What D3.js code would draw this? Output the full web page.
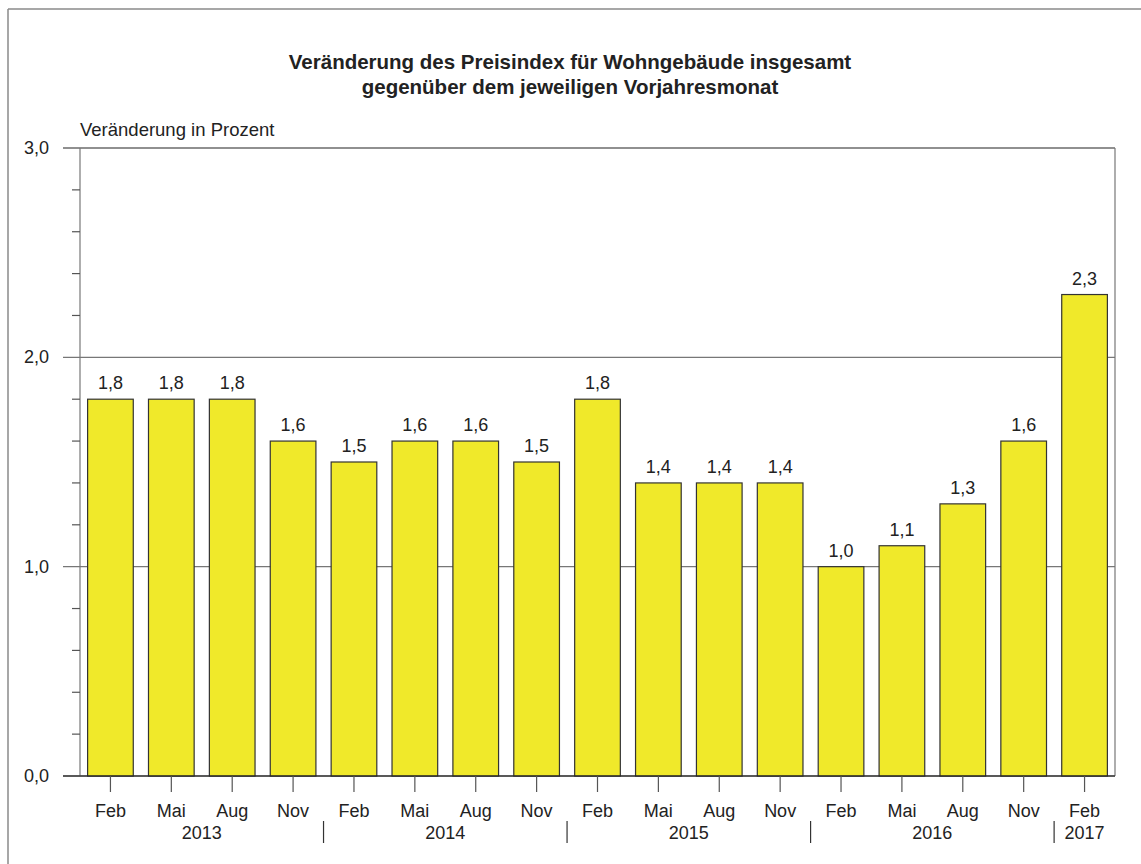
<!DOCTYPE html>
<html>
<head>
<meta charset="utf-8">
<script src="https://cdn.jsdelivr.net/npm/d3@7"></script>
<style>
  body { margin: 0; background: #fff; }
  text { font-family: "Liberation Sans", Arial, sans-serif; fill: #222; }
</style>
</head>
<body>
<svg id="chart"></svg>
<script>
// Daten
var months = ["Feb", "Mai", "Aug", "Nov", "Feb", "Mai", "Aug", "Nov", "Feb", "Mai", "Aug", "Nov", "Feb", "Mai", "Aug", "Nov", "Feb"];
var years = ["2013", "2013", "2013", "2013", "2014", "2014", "2014", "2014", "2015", "2015", "2015", "2015", "2016", "2016", "2016", "2016", "2017"];
var values = [1.8, 1.8, 1.8, 1.6, 1.5, 1.6, 1.6, 1.5, 1.8, 1.4, 1.4, 1.4, 1.0, 1.1, 1.3, 1.6, 2.3];
var yTicks = [0, 1, 2, 3];
var yMinor = [0.2, 0.4, 0.6, 0.8, 1.2, 1.4, 1.6, 1.8, 2.2, 2.4, 2.6, 2.8];

var svg_width = 1141, svg_height = 864;
var pLeft = 80, pRight = 1115, pTop = 148, pBottom = 776;

var svg = d3.select("#chart")
	.attr("width", svg_width)
	.attr("height", svg_height);

var fmt = function (d) { return d3.format(".1f")(d).replace(".", ","); };

var keys = values.map(function (d, i) { return i; });
var x = d3.scaleBand().domain(keys).range([pLeft, pRight]).paddingInner(0.25).paddingOuter(0.125);
var y = d3.scaleLinear().domain([0, 3]).range([pBottom, pTop]);

// Rahmen
svg.append("line").attr("x1", 8).attr("x2", svg_width).attr("y1", 9).attr("y2", 9)
	.attr("stroke", "#8a8a8a").attr("stroke-width", 1.5);
svg.append("line").attr("x1", 8).attr("x2", 8).attr("y1", 9).attr("y2", svg_height)
	.attr("stroke", "#8a8a8a").attr("stroke-width", 1.5);

// Titel
svg.append("text").attr("x", 570).attr("y", 69).attr("text-anchor", "middle")
	.style("font-size", "20.5px").style("font-weight", "bold")
	.text("Veränderung des Preisindex für Wohngebäude insgesamt");
svg.append("text").attr("x", 570).attr("y", 94).attr("text-anchor", "middle")
	.style("font-size", "20.5px").style("font-weight", "bold")
	.text("gegenüber dem jeweiligen Vorjahresmonat");

svg.append("text").attr("x", 80).attr("y", 136)
	.style("font-size", "18.5px")
	.text("Veränderung in Prozent");

// Gitterlinien
svg.append("g").selectAll("line")
	.data(yTicks)
	.enter().append("line")
	.attr("x1", 63).attr("x2", pRight)
	.attr("y1", function (d) { return y(d); })
	.attr("y2", function (d) { return y(d); })
	.attr("stroke", function (d) { return (d === 0 || d === 3) ? "#222" : "#777"; })
	.attr("stroke-width", 1.2);

// y-Achse
svg.append("line").attr("x1", pLeft).attr("x2", pLeft).attr("y1", pTop).attr("y2", pBottom)
	.attr("stroke", "#777").attr("stroke-width", 1.2);
svg.append("line").attr("x1", pRight).attr("x2", pRight).attr("y1", pTop).attr("y2", pBottom)
	.attr("stroke", "#777").attr("stroke-width", 1.2);

svg.append("g").selectAll("line")
	.data(yMinor)
	.enter().append("line")
	.attr("x1", 72).attr("x2", pLeft)
	.attr("y1", function (d) { return y(d); })
	.attr("y2", function (d) { return y(d); })
	.attr("stroke", "#555").attr("stroke-width", 1.2);

svg.append("g").selectAll("text")
	.data(yTicks)
	.enter().append("text")
	.attr("x", 49)
	.attr("y", function (d) { return y(d) + 6; })
	.attr("text-anchor", "end")
	.style("font-size", "18px")
	.text(fmt);

// Balken
svg.append("g").selectAll("rect")
	.data(values)
	.enter().append("rect")
	.attr("x", function (d, i) { return x(i); })
	.attr("y", function (d) { return y(d); })
	.attr("width", x.bandwidth())
	.attr("height", function (d) { return y(0) - y(d); })
	.attr("fill", "#f0e92a")
	.attr("stroke", "#333")
	.attr("stroke-width", 1.2);

// Nulllinie über den Balken
svg.append("line").attr("x1", 63).attr("x2", pRight).attr("y1", y(0)).attr("y2", y(0))
	.attr("stroke", "#222").attr("stroke-width", 1.2);

// Werte
svg.append("g").selectAll("text")
	.data(values)
	.enter().append("text")
	.attr("x", function (d, i) { return x(i) + x.bandwidth() / 2; })
	.attr("y", function (d) { return y(d) - 10; })
	.attr("text-anchor", "middle")
	.style("font-size", "18px")
	.text(fmt);

// x-Achse
svg.append("g").selectAll("line")
	.data(keys)
	.enter().append("line")
	.attr("x1", function (i) { return x(i) + x.bandwidth() / 2; })
	.attr("x2", function (i) { return x(i) + x.bandwidth() / 2; })
	.attr("y1", pBottom).attr("y2", pBottom + 16)
	.attr("stroke", "#555").attr("stroke-width", 1.2);

svg.append("g").selectAll("text")
	.data(months)
	.enter().append("text")
	.attr("x", function (d, i) { return x(i) + x.bandwidth() / 2; })
	.attr("y", 817)
	.attr("text-anchor", "middle")
	.style("font-size", "18px")
	.text(function (d) { return d; });

// Jahre
var yearGroups = d3.groups(keys, function (i) { return years[i]; });
var step = x.step();
svg.append("g").selectAll("text")
	.data(yearGroups)
	.enter().append("text")
	.attr("x", function (g) {
		var a = g[1][0], b = g[1][g[1].length - 1];
		return (x(a) + x(b) + x.bandwidth()) / 2;
	})
	.attr("y", 839)
	.attr("text-anchor", "middle")
	.style("font-size", "18px")
	.text(function (g) { return g[0]; });

svg.append("g").selectAll("line")
	.data(yearGroups.slice(1))
	.enter().append("line")
	.attr("x1", function (g) { return x(g[1][0]) - (step - x.bandwidth()) / 2; })
	.attr("x2", function (g) { return x(g[1][0]) - (step - x.bandwidth()) / 2; })
	.attr("y1", 821).attr("y2", 843)
	.attr("stroke", "#333").attr("stroke-width", 1.2);
</script>
</body>
</html>
